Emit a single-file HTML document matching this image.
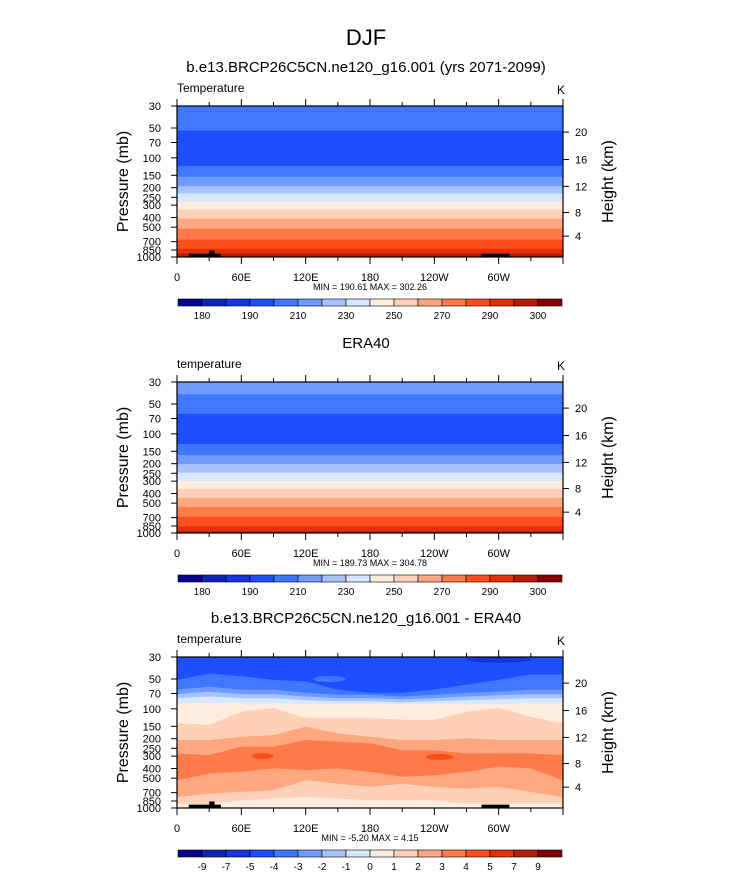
<!DOCTYPE html>
<html><head><meta charset="utf-8"><style>
body{margin:0;background:#fff;}
svg{display:block;font-family:"Liberation Sans",sans-serif;}
</style></head><body>
<svg id="c" width="733" height="873" xmlns="http://www.w3.org/2000/svg">
<text x="366" y="45" font-size="22" text-anchor="middle">DJF</text>
</svg>
<script>
const palette=["#06038f","#0a25b8","#1336e0","#1c50ff","#3f78ff","#6f9bff","#a6c3ff","#d7e8ff","#ffeedf","#ffd0b8","#ffa77f","#ff7a49","#ff4c1c","#e33006","#b51b00","#840000"];
const lons=[0,30,60,90,120,150,180,210,240,270,300,330,360];
const xTickLabels=["0","60E","120E","180","120W","60W"];
const pTicks=[30,50,70,100,150,200,250,300,400,500,700,850,1000];
const hTicks=[4,8,12,16,20];
const hTickPress=[616,356,194,104,55];
const tempCbLabels=["180","190","210","230","250","270","290","300"];
const diffCbLabels=["-9","-7","-5","-4","-3","-2","-1","0","1","2","3","4","5","7","9"];
const p1Base=4;
const p1Bounds=[53,121,155,193,229,278,332,410,517,668,824,926];
const p1Colors=[3,4,5,6,7,8,9,10,11,12,13,14];
const p2Base=5;
const p2Bounds=[40,63,127,164,202,246,299,358,442,545,688,855,961];
const p2Colors=[4,3,4,5,6,7,8,9,10,11,12,13,14];
const p3Base=3;
const p3Colors=[4,5,6,7,8,9,10,11,10,9,8];
const p3B1=[51,44,47,51,53,64,69,69,64,57,51,45,45];
const p3B2=[64,60,64,64,69,72,72,75,72,69,67,64,64];
const p3B3=[71,67,71,71,75,78,78,80,78,75,73,71,71];
const p3B4=[78,75,78,78,82,84,84,86,84,82,80,78,78];
const p3B5=[88,88,88,88,90,90,90,90,90,90,90,88,88];
const p3B6=[140,145,107,98,124,124,124,129,129,107,98,120,140];
const p3B7=[206,206,191,184,151,177,191,206,206,198,206,206,206];
const p3B8=[282,293,241,241,206,214,223,261,261,282,282,282,293];
const p3B9=[524,449,432,399,415,399,432,485,467,432,384,399,524];
const p3B10=[774,716,688,662,524,567,613,567,613,637,613,688,774];
const p3B11=[904,904,836,804,774,804,836,836,836,904,904,904,904];
const p3Bounds=[p3B1,p3B2,p3B3,p3B4,p3B5,p3B6,p3B7,p3B8,p3B9,p3B10,p3B11];
const p3Blobs=[[80,10,300,12],[245,13,305,12],[142,15,50,4],[300,30,32,2]];

const svg=document.getElementById('c');
const NS="http://www.w3.org/2000/svg";
const X0=177,X1=563,PH=151;
function mk(tag,attrs,parent){const e=document.createElementNS(NS,tag);for(const k in attrs)e.setAttribute(k,attrs[k]);(parent||svg).appendChild(e);return e;}
function xs(l){return X0+(l/360)*(X1-X0);}
function ysF(top){return p=>top+Math.log(p/30)/Math.log(1000/30)*PH;}

function panel(top,title,sub,name,base,bounds,colors,blobs,topo,minmax,cbLabels,cbDiff){
  const ys=ysF(top);
  const g=mk('g',{});
  
  
  const t=mk('text',{x:366,y:top-34,'font-size':15,'text-anchor':'middle'},g);t.textContent=title;
  
  const s=mk('text',{x:X0,y:top-14,'font-size':12},g);s.textContent=sub;
  
  const k=mk('text',{x:557,y:top-12,'font-size':12},g);k.textContent='K';
  
  const bg=mk('rect',{x:X0,y:top,width:X1-X0,height:PH,fill:palette[base]},g);
  
  bounds.forEach((b,i)=>{
    const arr=Array.isArray(b)?b:lons.map(()=>b);
    let d='M'+xs(0)+','+ys(arr[0]);
    lons.forEach((l,j)=>{d+=' L'+xs(l).toFixed(1)+','+ys(arr[j]).toFixed(1);});
    d+=' L'+X1+','+(top+PH)+' L'+X0+','+(top+PH)+' Z';
    const pth=mk('path',{d:d,fill:palette[colors[i]]},g);
    
  });
  (blobs||[]).forEach(b=>{
    const cx=xs(b[0]),rx=b[1]/360*(X1-X0),cy=ys(b[2]);
    const el=mk('ellipse',{cx:cx,cy:cy,rx:rx,ry:3,fill:palette[b[3]]},g);
    
  });
  if(topo){
    [[11,41,925],[30,35,860],[284,310,925]].forEach(r=>{
      const e=mk('rect',{x:xs(r[0]),y:ys(r[2]),width:xs(r[1])-xs(r[0]),height:top+PH-ys(r[2]),fill:'#000'},g);
      
    });
  }
  mk('rect',{x:X0,y:top,width:X1-X0,height:PH,fill:'none',stroke:'#000','stroke-width':1.2},g);
  for(let l=0;l<=360;l+=30){
    const len=l%60===0?7:4;
    mk('line',{x1:xs(l),x2:xs(l),y1:top,y2:top-len,stroke:'#000'},g);
    mk('line',{x1:xs(l),x2:xs(l),y1:top+PH,y2:top+PH+len,stroke:'#000'},g);
  }
  xTickLabels.forEach((lb,i)=>{
    const tt=mk('text',{x:xs(i*60),y:top+PH+24,'font-size':11,'text-anchor':'middle'},g);tt.textContent=lb;
    
  });
  pTicks.forEach(p=>{
    mk('line',{x1:X0,x2:X0-6,y1:ys(p),y2:ys(p),stroke:'#000'},g);
    const tt=mk('text',{x:161,y:ys(p)+4,'font-size':11,'text-anchor':'end'},g);tt.textContent=p;
    
  });
  hTicks.forEach((h,i)=>{
    const y=ys(hTickPress[i]);
    mk('line',{x1:X1,x2:X1+6,y1:y,y2:y,stroke:'#000'},g);
    const tt=mk('text',{x:575,y:y+4,'font-size':11},g);tt.textContent=h;
    
  });
  const ya=mk('text',{x:0,y:0,'font-size':16,'text-anchor':'middle',transform:`translate(128,${top+PH/2}) rotate(-90)`},g);ya.textContent='Pressure (mb)';
  
  const ya2=mk('text',{x:0,y:0,'font-size':16,'text-anchor':'middle',transform:`translate(613,${top+PH/2}) rotate(-90)`},g);ya2.textContent='Height (km)';
  
  const mm=mk('text',{x:370,y:top+PH+33,'font-size':9,'text-anchor':'middle'},g);mm.textContent=minmax;
  
  const cy=top+PH+42,cw=(562-178)/16;
  palette.forEach((c,i)=>{
    const r=mk('rect',{x:178+i*cw,y:cy,width:cw,height:7,fill:c,stroke:'#000','stroke-width':0.6},g);
    
  });
  cbLabels.forEach((lb,i)=>{
    const bi=cbDiff?i+1:2*i+1;
    const tt=mk('text',{x:178+bi*cw,y:cy+20,'font-size':10,'text-anchor':'middle'},g);tt.textContent=lb;
    
  });
}
panel(106,'b.e13.BRCP26C5CN.ne120_g16.001 (yrs 2071-2099)','Temperature','model',p1Base,p1Bounds,p1Colors,[],true,'MIN = 190.61  MAX = 302.26',tempCbLabels,false);
panel(382,'ERA40','temperature','era40',p2Base,p2Bounds,p2Colors,[],false,'MIN = 189.73  MAX = 304.78',tempCbLabels,false);
panel(657,'b.e13.BRCP26C5CN.ne120_g16.001 - ERA40','temperature','difference',p3Base,p3Bounds,p3Colors,p3Blobs,true,'MIN =  -5.20  MAX =   4.15',diffCbLabels,true);
</script>
</body></html>
